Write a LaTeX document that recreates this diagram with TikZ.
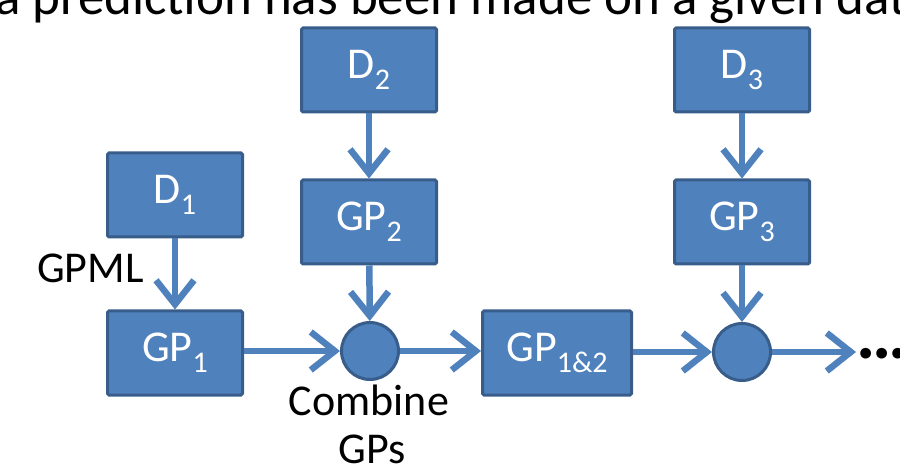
\documentclass[tikz,border=0pt]{standalone}
\usepackage{fontspec}
\setmainfont{Carlito}
\usetikzlibrary{arrows.meta}
\definecolor{boxfill}{HTML}{4F81BD}
\definecolor{boxline}{HTML}{385D8A}
\newcommand\subs[1]{\raisebox{-11pt}{\fontsize{30}{30}\selectfont #1}}
\tikzset{
  blockbox/.style={draw=boxline, fill=boxfill, line width=3pt, rounded corners=1.5pt,
    minimum width=135pt, minimum height=84pt, inner sep=0pt, text=white,
    font=\fontsize{44}{48}\selectfont},
  joinpt/.style={circle, draw=boxline, fill=boxfill, line width=3pt, minimum size=57pt, inner sep=0pt},
  flow/.style={draw=boxfill, line width=6.5pt,
    -{Straight Barb[length=24pt,width=38pt]}},
  lbl/.style={font=\fontsize{44}{48}\selectfont, inner sep=0pt, text=black},
}
\begin{document}
\begin{tikzpicture}[x=1pt,y=-1pt]
\useasboundingbox (0,0) rectangle (900,470);
\clip (0,0) rectangle (900,470);
\node[lbl, font=\fontsize{53}{56}\selectfont, anchor=base west] (title) at (-5,15) {a prediction has been made on a given data};

\node[blockbox] (d1) at (175,195) {D\subs{1}};
\node[blockbox] (gp1) at (175,353) {GP\subs{1}};
\node[blockbox] (d2) at (369,70) {D\subs{2}};
\node[blockbox] (gp2) at (369,222) {GP\subs{2}};
\node[joinpt] (c1) at (370,351) {};
\node[blockbox, minimum width=149pt] (gp12) at (557,353) {GP\subs{1\&2}};
\node[joinpt] (c2) at (742,352) {};
\node[blockbox] (d3) at (742,70) {D\subs{3}};
\node[blockbox] (gp3) at (742,222) {GP\subs{3}};
\coordinate (endpt) at (856,352);

\node[lbl, anchor=base west] (gpml) at (37,283) {GPML};
\node[lbl, anchor=base] (comb1) at (369,415) {Combine};
\node[lbl, anchor=base] (comb2) at (372,463) {GPs};
\node[lbl, font=\bfseries\fontsize{72}{72}\selectfont, anchor=base west] (dots) at (856,359) {.\kern-3pt.\kern-3pt.};

\draw[flow] (d1) -- (gp1);
\draw[flow] (d2) -- (gp2);
\draw[flow] (d3) -- (gp3);
\draw[flow] (gp2) -- (c1);
\draw[flow] (gp3) -- (c2);
\draw[flow] (gp1.east |- c1) -- (c1);
\draw[flow] (c1) -- (gp12.west |- c1);
\draw[flow] (gp12.east |- c2) -- (c2);
\draw[flow] (c2) -- (endpt);
\end{tikzpicture}
\end{document}
